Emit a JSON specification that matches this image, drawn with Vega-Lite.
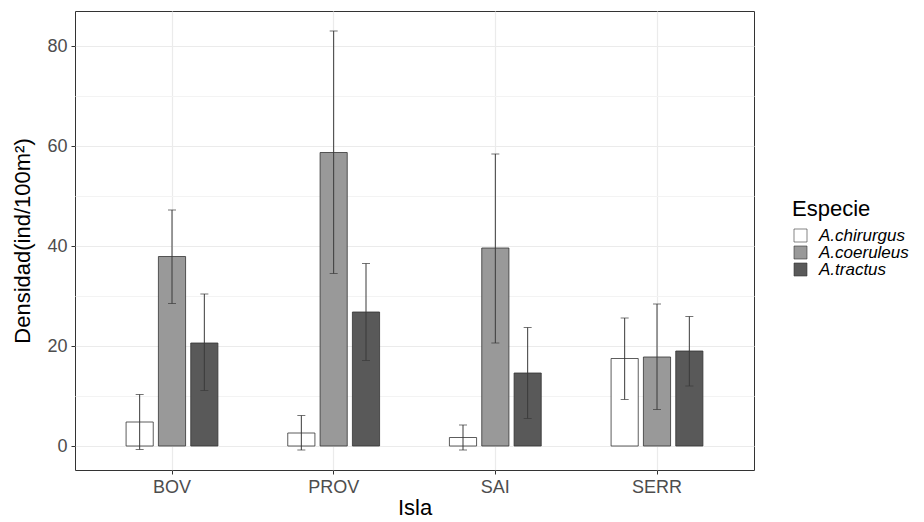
{
  "$schema": "https://vega.github.io/schema/vega-lite/v6.json",
  "width": 679,
  "height": 459,
  "autosize": {"type": "none"},
  "padding": {"left": 75, "top": 11, "right": 170, "bottom": 52},
  "background": "white",
  "config": {
    "font": "Liberation Sans",
    "view": {"stroke": "#333333", "strokeWidth": 1},
    "axis": {
      "labelColor": "#4d4d4d",
      "labelFontSize": 18,
      "labelFont": "Liberation Sans",
      "tickColor": "#333333",
      "tickSize": 4,
      "domain": false,
      "titleColor": "#000000",
      "titleFontSize": 22,
      "titleFontWeight": "normal",
      "titleFont": "Liberation Sans",
      "gridColor": "#ebebeb",
      "gridWidth": 1.2
    }
  },
  "data": {
    "values": [
      {"Isla": "BOV", "Especie": "A.chirurgus", "val": 4.8, "lo": -0.7, "hi": 10.3},
      {"Isla": "BOV", "Especie": "A.coeruleus", "val": 37.9, "lo": 28.5, "hi": 47.2},
      {"Isla": "BOV", "Especie": "A.tractus", "val": 20.6, "lo": 11.1, "hi": 30.4},
      {"Isla": "PROV", "Especie": "A.chirurgus", "val": 2.6, "lo": -0.8, "hi": 6.1},
      {"Isla": "PROV", "Especie": "A.coeruleus", "val": 58.7, "lo": 34.5, "hi": 83.0},
      {"Isla": "PROV", "Especie": "A.tractus", "val": 26.8, "lo": 17.1, "hi": 36.5},
      {"Isla": "SAI", "Especie": "A.chirurgus", "val": 1.7, "lo": -0.8, "hi": 4.2},
      {"Isla": "SAI", "Especie": "A.coeruleus", "val": 39.6, "lo": 20.6, "hi": 58.4},
      {"Isla": "SAI", "Especie": "A.tractus", "val": 14.6, "lo": 5.5, "hi": 23.7},
      {"Isla": "SERR", "Especie": "A.chirurgus", "val": 17.5, "lo": 9.3, "hi": 25.6},
      {"Isla": "SERR", "Especie": "A.coeruleus", "val": 17.8, "lo": 7.3, "hi": 28.4},
      {"Isla": "SERR", "Especie": "A.tractus", "val": 19.0, "lo": 12.0, "hi": 25.9}
    ]
  },
  "encoding": {
    "x": {
      "field": "Isla",
      "type": "nominal",
      "scale": {"paddingInner": 0.4, "paddingOuter": 0.3},
      "axis": {"title": "Isla", "labelAngle": 0, "grid": true, "bandPosition": 0.5, "labelPadding": 4, "titlePadding": 1}
    },
    "xOffset": {
      "field": "Especie",
      "type": "nominal",
      "scale": {"paddingInner": 0.16, "paddingOuter": 0.08}
    }
  },
  "layer": [
    {
      "mark": {"type": "bar", "stroke": "#333333", "strokeWidth": 0.8},
      "encoding": {
        "y": {
          "field": "val",
          "type": "quantitative",
          "scale": {"domain": [-4.8, 87], "nice": false, "zero": false},
          "axis": {"title": "Densidad(ind/100m²)", "values": [0, 20, 40, 60, 80], "grid": true, "labelPadding": 4, "titlePadding": 12}
        },
        "fill": {
          "field": "Especie",
          "type": "nominal",
          "scale": {"domain": ["A.chirurgus", "A.coeruleus", "A.tractus"], "range": ["#ffffff", "#999999", "#595959"]},
          "legend": {
            "title": "Especie",
            "orient": "none",
            "legendX": 717,
            "legendY": 188,
            "titleFontSize": 22,
            "titleFontWeight": "normal",
            "titleColor": "#000000",
            "titlePadding": 6,
            "labelFontSize": 17,
            "labelFontStyle": "italic",
            "labelColor": "#000000",
            "labelOffset": 10,
            "symbolType": "square",
            "symbolSize": 169,
            "symbolStrokeColor": "#333333",
            "symbolStrokeWidth": 0.6,
            "rowPadding": -9
          }
        }
      }
    },
    {
      "mark": {"type": "rule", "color": "#3a3a3a", "strokeWidth": 1},
      "encoding": {
        "y": {
          "field": "lo",
          "type": "quantitative",
          "axis": {"orient": "left", "values": [10, 30, 50, 70], "grid": true, "gridColor": "#f3f3f3", "labels": false, "ticks": false, "domain": false, "title": null}
        },
        "y2": {"field": "hi"}
      }
    },
    {
      "mark": {"type": "tick", "color": "#3a3a3a", "thickness": 1, "size": 8},
      "encoding": {"y": {"field": "lo", "type": "quantitative", "axis": null}}
    },
    {
      "mark": {"type": "tick", "color": "#3a3a3a", "thickness": 1, "size": 8},
      "encoding": {"y": {"field": "hi", "type": "quantitative", "axis": null}}
    }
  ],
  "resolve": {"axis": {"y": "independent"}}
}
